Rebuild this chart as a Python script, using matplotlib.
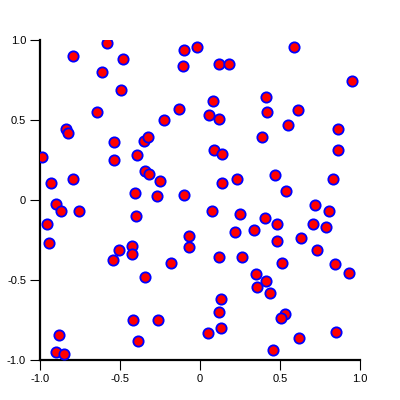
import matplotlib
matplotlib.use("Agg")
import matplotlib.pyplot as plt

plt.rcParams['font.family'] = ['Liberation Sans', 'DejaVu Sans']
plt.rcParams['axes.unicode_minus'] = False

# point positions
xs = [-0.583, -0.792, -0.483, -0.610, -0.098, -0.019, -0.106, -0.494, -0.646, -0.133,
      -0.225, -0.835, -0.825, -0.538, -0.348, -0.323, -0.990, -0.535, -0.394, -0.933,
      -0.792, -0.346, -0.319, -0.248, -0.404, -0.267, -0.102, 0.590, 0.119, 0.181,
      0.952, 0.079, 0.413, 0.054, 0.117, 0.421, 0.613, 0.550, 0.863, 0.390,
      0.088, 0.138, 0.863, 0.233, 0.135, 0.469, 0.831, 0.535, 0.073, 0.252,
      0.721, 0.808, -0.069, -0.071, 0.406, 0.483, 0.217, 0.340, 0.481, 0.706,
      0.785, 0.633, 0.733, 0.119, 0.265, 0.513, 0.842, 0.933, 0.350, 0.410,
      0.356, 0.440, 0.131, 0.119, 0.533, 0.504, 0.131, 0.050, 0.848, 0.619,
      0.458, -0.900, -0.871, -0.754, -0.400, -0.956, -0.946, -0.508, -0.425, -0.427,
      -0.542, -0.179, -0.344, -0.421, -0.260, -0.388, -0.881, -0.902, -0.850]
ys = [0.979, 0.900, 0.881, 0.802, 0.938, 0.956, 0.838, 0.685, 0.550, 0.567,
      0.502, 0.446, 0.419, 0.360, 0.371, 0.392, 0.267, 0.250, 0.281, 0.108,
      0.131, 0.181, 0.160, 0.117, 0.044, 0.025, 0.029, 0.958, 0.852, 0.848,
      0.742, 0.617, 0.646, 0.531, 0.504, 0.552, 0.560, 0.469, 0.446, 0.394,
      0.313, 0.285, 0.310, 0.133, 0.108, 0.156, 0.131, 0.056, -0.067, -0.088,
      -0.033, -0.069, -0.223, -0.294, -0.113, -0.150, -0.202, -0.185, -0.258, -0.152,
      -0.167, -0.240, -0.313, -0.358, -0.356, -0.396, -0.402, -0.454, -0.465, -0.506,
      -0.546, -0.583, -0.621, -0.698, -0.713, -0.735, -0.798, -0.829, -0.827, -0.860,
      -0.940, -0.025, -0.069, -0.071, -0.098, -0.152, -0.267, -0.313, -0.288, -0.335,
      -0.375, -0.394, -0.479, -0.752, -0.752, -0.883, -0.846, -0.948, -0.963]

ticks = [-1.0, -0.5, 0, 0.5, 1.0]
tick_labels = ['-1.0', '-0.5', '0', '0.5', '1.0']

fig = plt.figure(figsize=(4, 4), dpi=100)
ax = fig.add_axes([0.1, 0.1, 0.8, 0.8])

ax.scatter(xs, ys, s=55, c='red', edgecolors='blue', linewidths=1.3, zorder=3)

ax.set_xlim(-1, 1)
ax.set_ylim(-1, 1)
ax.set_xticks(ticks)
ax.set_xticklabels(tick_labels)
ax.set_yticks(ticks)
ax.set_yticklabels(tick_labels)

for side in ['top', 'right']:
    ax.spines[side].set_visible(False)
for side in ['left', 'bottom']:
    ax.spines[side].set_linewidth(1.6)
ax.tick_params(direction='out', length=7, width=0.8, labelsize=8, pad=3)

fig.savefig('out.png', dpi=100)
